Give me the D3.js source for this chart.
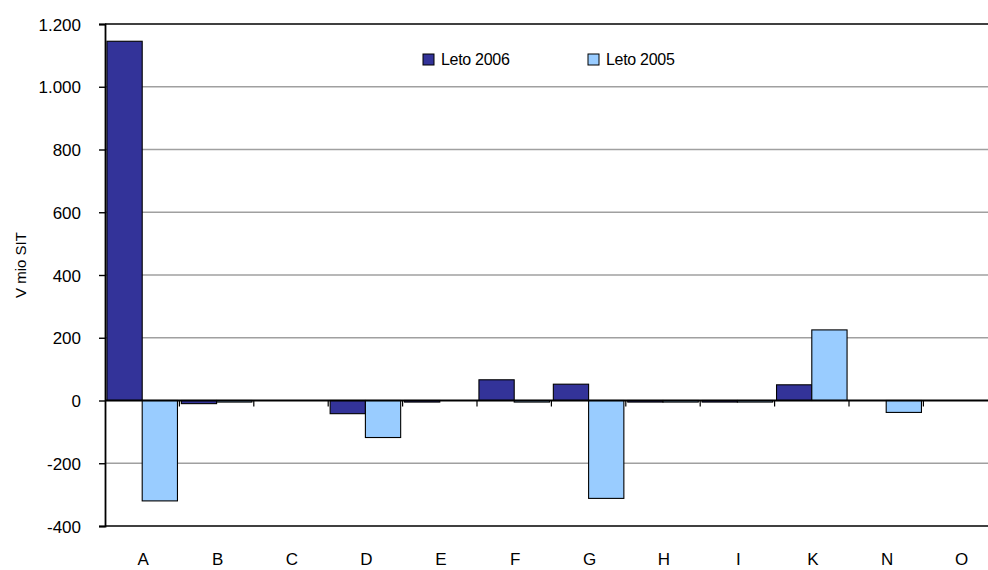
<!DOCTYPE html>
<html>
<head>
<meta charset="utf-8">
<title>V mio SIT</title>
<script src="https://d3js.org/d3.v7.min.js"></script>
<style>
  body { margin: 0; background: #fff; }
  text { font-family: "Liberation Sans", Arial, sans-serif; fill: #000; }
</style>
</head>
<body>
<svg id="chart" width="988" height="570"></svg>
<script>
// data
var categories = ["A", "B", "C", "D", "E", "F", "G", "H", "I", "K", "N", "O"];
var leto2006 = [1145, -10, 0, -42, -5, 66, 52, -5, -5, 50, 0, 0];
var leto2005 = [-320, -5, 0, -118, 0, -5, -312, -5, -5, 225, -38, 0];
var yTicks = [-400, -200, 0, 200, 400, 600, 800, 1000, 1200];
var seriesNames = ["Leto 2006", "Leto 2005"];
var colors = ["#333399", "#99ccff"];

var svg = d3.select("#chart"),
    margin = {top: 24, left: 105},
    plotBottom = 526,
    bandW = 74.4,
    plotRight = margin.left + bandW * categories.length;

var x = d3.scaleBand()
    .domain(categories)
    .range([margin.left, plotRight]);

var inner = d3.scaleBand()
    .domain([0, 1])
    .range([0, bandW])
    .paddingOuter(0.055);

var y = d3.scaleLinear()
    .domain([-400, 1200])
    .range([plotBottom, margin.top]);

// gridlines
svg.append("g")
  .selectAll("line")
  .data(yTicks.filter(d => d != 0 && d != -400 && d != 1200))
  .join("line")
    .attr("x1", margin.left)
    .attr("x2", plotRight)
    .attr("y1", d => y(d))
    .attr("y2", d => y(d))
    .attr("stroke", "#a0a0a0")
    .attr("stroke-width", 1.4);

// top + bottom frame lines
svg.append("line")
    .attr("x1", margin.left).attr("x2", plotRight)
    .attr("y1", y(1200)).attr("y2", y(1200))
    .attr("stroke", "#000").attr("stroke-width", 1.6);
svg.append("line")
    .attr("x1", margin.left).attr("x2", plotRight)
    .attr("y1", y(-400)).attr("y2", y(-400))
    .attr("stroke", "#000").attr("stroke-width", 1.6);

// bars
var series = [leto2006, leto2005];
series.forEach(function(vals, s) {
  svg.append("g")
    .selectAll("rect")
    .data(vals.map((v, i) => ({cat: categories[i], v: v})).filter(d => d.v != 0))
    .join("rect")
      .attr("x", d => x(d.cat) + inner(s))
      .attr("width", inner.bandwidth())
      .attr("y", d => y(Math.max(0, d.v)))
      .attr("height", d => Math.abs(y(d.v) - y(0)))
      .attr("fill", colors[s])
      .attr("stroke", "#000")
      .attr("stroke-width", 1.1);
});

// zero line with category ticks
svg.append("line")
    .attr("x1", margin.left).attr("x2", plotRight)
    .attr("y1", y(0)).attr("y2", y(0))
    .attr("stroke", "#000").attr("stroke-width", 1.8);

svg.append("g")
  .selectAll("line")
  .data(categories.slice(1))
  .join("line")
    .attr("x1", d => x(d))
    .attr("x2", d => x(d))
    .attr("y1", y(0))
    .attr("y2", y(0) + 6)
    .attr("stroke", "#000")
    .attr("stroke-width", 1.2);

// y axis, "1.200" style with a plain hyphen for negatives
var yAxis = d3.axisLeft(y)
    .tickValues(yTicks)
    .tickSize(6)
    .tickPadding(18)
    .tickFormat(d => (d < 0 ? "-" : "") + d3.format(",")(Math.abs(d)).replace(",", "."));

svg.append("g")
    .attr("transform", "translate(" + margin.left + ",0)")
    .call(yAxis)
    .call(g => g.select(".domain").attr("stroke-width", 1.8))
    .call(g => g.selectAll(".tick line").attr("stroke-width", 1.4))
    .call(g => g.selectAll(".tick text")
        .attr("font-family", "Liberation Sans, Arial, sans-serif")
        .attr("font-size", 17)
        .attr("dy", "0.36em"));

// category labels
svg.append("g")
  .selectAll("text")
  .data(categories)
  .join("text")
    .attr("x", d => x(d) + bandW / 2 + 1)
    .attr("y", 565)
    .attr("text-anchor", "middle")
    .attr("font-size", 17)
    .text(d => d);

// y title
svg.append("text")
    .attr("transform", "translate(26,265) rotate(-90)")
    .attr("text-anchor", "middle")
    .attr("font-size", 15)
    .text("V mio SIT");

// legend
var legendX = [423, 588];
seriesNames.forEach(function(name, i) {
  svg.append("rect")
      .attr("x", legendX[i])
      .attr("y", 54)
      .attr("width", 11)
      .attr("height", 11)
      .attr("fill", colors[i])
      .attr("stroke", "#000")
      .attr("stroke-width", 1);
  svg.append("text")
      .attr("x", legendX[i] + 18)
      .attr("y", 65)
      .attr("font-size", 16)
      .attr("letter-spacing", -0.3)
      .text(name);
});
</script>
</body>
</html>
